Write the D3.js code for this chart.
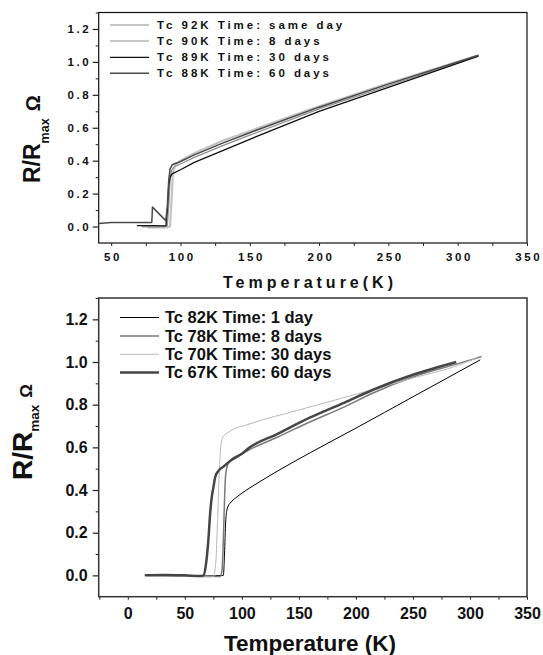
<!DOCTYPE html>
<html><head><meta charset="utf-8">
<script src="https://cdn.jsdelivr.net/npm/d3@7/dist/d3.min.js"></script>
<style>body{margin:0;background:#fff}text{font-family:"Liberation Sans",Arial,sans-serif;font-weight:bold;fill:#111}</style>
</head><body>
<script>
// ---------- TOP PANEL DATA ----------
const topLabels = ["Tc 92K Time: same day","Tc 90K Time: 8 days","Tc 89K Time: 30 days","Tc 88K Time: 60 days"];
const top92T = [76, 80, 85, 90, 92.5, 93.5, 94.5, 96, 100, 110, 130, 150, 200, 250, 315];
const top92R = [-0.006, -0.006, -0.006, -0.005, 0.0, 0.15, 0.32, 0.37, 0.40, 0.445, 0.52, 0.58, 0.73, 0.87, 1.04];
const top90T = [72, 80, 88, 90.5, 91.5, 92.5, 93.5, 95, 100, 110, 130, 150, 200, 250, 315];
const top90R = [-0.002, -0.002, -0.001, 0.005, 0.12, 0.28, 0.34, 0.36, 0.38, 0.42, 0.49, 0.555, 0.715, 0.855, 1.038];
const top89T = [68.5, 80, 89.5, 90.5, 91.5, 92.5, 94, 100, 110, 130, 150, 200, 250, 315];
const top89R = [0.006, 0.005, 0.004, 0.1, 0.25, 0.30, 0.32, 0.345, 0.39, 0.46, 0.53, 0.70, 0.845, 1.035];
const top88T = [41, 50, 79.3, 79.8, 89.4, 90.5, 91.5, 92.5, 94, 100, 110, 130, 150, 200, 250, 315];
const top88R = [0.018, 0.024, 0.024, 0.118, 0.036, 0.12, 0.28, 0.35, 0.375, 0.395, 0.435, 0.505, 0.57, 0.725, 0.865, 1.04];
const topXTicks = [50, 100, 150, 200, 250, 300, 350];
const topYTicks = [0.0, 0.2, 0.4, 0.6, 0.8, 1.0, 1.2];

// ---------- BOTTOM PANEL DATA ----------
const botLabels = ["Tc 82K Time: 1 day","Tc 78K Time: 8 days","Tc 70K Time: 30 days","Tc 67K Time: 60 days"];
const bot82T = [15, 30, 50, 70, 83.8, 84.8, 85.8, 86.7, 88, 90, 95, 100, 107, 116, 130, 160, 200, 250, 309];
const bot82R = [0, 0, -0.002, -0.002, 0, 0.1, 0.25, 0.30, 0.325, 0.34, 0.365, 0.385, 0.41, 0.44, 0.485, 0.575, 0.69, 0.837, 1.01];
const bot78T = [15, 40, 60, 78, 81, 82.5, 83.5, 84.5, 85.5, 87, 90, 100, 107, 130, 160, 190, 215, 250, 288, 310];
const bot78R = [0, -0.002, -0.002, -0.005, -0.005, 0.02, 0.12, 0.3, 0.45, 0.51, 0.54, 0.57, 0.59, 0.645, 0.72, 0.79, 0.855, 0.93, 0.99, 1.025];
const bot70T = [15, 40, 60, 72, 75, 77, 78.5, 80, 81.5, 83.5, 88, 107, 150, 215, 250, 290, 310];
const bot70R = [0, -0.003, -0.005, -0.008, -0.005, 0.05, 0.22, 0.45, 0.6, 0.65, 0.67, 0.71, 0.775, 0.871, 0.925, 0.985, 1.03];
const bot67T = [15, 30, 50, 64, 66.5, 68.5, 70.7, 72.2, 73.7, 75, 76.6, 79.5, 84, 89.7, 100, 107, 130, 160, 190, 215, 250, 288];
const bot67R = [0, 0.002, 0, -0.003, 0.0, 0.05, 0.17, 0.29, 0.37, 0.41, 0.46, 0.49, 0.51, 0.536, 0.57, 0.60, 0.66, 0.74, 0.81, 0.87, 0.94, 1.0];
const botXTicks = [0, 50, 100, 150, 200, 250, 300, 350];
const botYTicks = [0.0, 0.2, 0.4, 0.6, 0.8, 1.0, 1.2];

const zip = (T, R) => T.map((t, i) => ({t, r: R[i]}));

const svg = d3.select("body").append("svg").attr("width", 543).attr("height", 655);

function panel(cfg) {
  const x = d3.scaleLinear().domain(cfg.xDom).range([cfg.left, cfg.right]);
  const y = d3.scaleLinear().domain([-0.1, 1.3]).range([cfg.bottom, cfg.top]);
  const g = svg.append("g");
  const ls = cfg.ls;

  const yMinor = d3.range(-0.1, 1.3001, 0.1).map(v => +v.toFixed(1)).filter(v => !cfg.yTicks.includes(v) && v > -0.1);
  g.append("g").attr("transform", `translate(${cfg.left},0)`)
    .call(d3.axisLeft(y).tickValues(yMinor).tickSize(cfg.yMinorLen).tickFormat("").tickSizeOuter(0))
    .call(a => a.select(".domain").remove())
    .selectAll("line").attr("stroke", "#222").attr("stroke-width", 1);
  const ya = g.append("g").attr("transform", `translate(${cfg.left},0)`)
    .call(d3.axisLeft(y).tickValues(cfg.yTicks).tickSize(cfg.yMajorLen).tickPadding(cfg.yPad).tickFormat(d3.format(".1f")).tickSizeOuter(0));
  ya.select(".domain").remove();
  ya.selectAll("line").attr("stroke", "#222").attr("stroke-width", 1.2);
  ya.selectAll("text").attr("font-size", cfg.tickFont).attr("font-family", "Liberation Sans, Arial, sans-serif")
    .attr("font-weight", "bold").attr("fill", "#111").attr("letter-spacing", ls).attr("dx", ls ? ls : 0);

  const xMinor = d3.range(cfg.xMinorStart, 351, 50);
  g.append("g").attr("transform", `translate(0,${cfg.bottom})`)
    .call(d3.axisBottom(x).tickValues(xMinor).tickSize(3).tickFormat("").tickSizeOuter(0))
    .call(a => a.select(".domain").remove())
    .selectAll("line").attr("stroke", "#222");
  const xa = g.append("g").attr("transform", `translate(0,${cfg.bottom})`)
    .call(d3.axisBottom(x).tickValues(cfg.xTicks).tickSize(3).tickPadding(cfg.xPad).tickFormat(d3.format("d")).tickSizeOuter(0));
  xa.select(".domain").remove();
  xa.selectAll("line").attr("stroke", "#222");
  xa.selectAll("text").attr("font-size", cfg.tickFont).attr("font-family", "Liberation Sans, Arial, sans-serif")
    .attr("font-weight", "bold").attr("fill", "#111").attr("letter-spacing", ls).attr("dx", ls ? ls / 2 : 0);

  g.append("rect").attr("x", cfg.left).attr("y", cfg.top).attr("width", cfg.right - cfg.left).attr("height", cfg.bottom - cfg.top)
    .attr("fill", "none").attr("stroke", cfg.frameColor).attr("stroke-width", cfg.frameW);

  const line = d3.line().x(d => x(d.t)).y(d => y(d.r)).curve(cfg.curve);
  cfg.series.forEach(s => {
    g.append("path").datum(zip(s.T, s.R)).attr("d", line).attr("fill", "none")
      .attr("stroke", s.color).attr("stroke-width", s.w).attr("stroke-linejoin", "round");
  });

  cfg.series.forEach((s, i) => {
    const ly = cfg.legY[i];
    g.append("line").attr("x1", cfg.legX1).attr("x2", cfg.legX2).attr("y1", ly).attr("y2", ly)
      .attr("stroke", s.color).attr("stroke-width", s.w);
    g.append("text").attr("x", cfg.legTX).attr("y", ly).attr("dy", "0.36em").attr("font-size", cfg.legFont)
      .attr("letter-spacing", cfg.legLS).text(cfg.labels[i]);
  });

  g.append("text").attr("x", cfg.xtX).attr("y", cfg.xtY).attr("text-anchor", "middle")
    .attr("font-size", cfg.xtFont).attr("letter-spacing", cfg.xtLS).text(cfg.xTitle);

  const yt = g.append("text").attr("transform", `translate(${cfg.ytX},${cfg.ytY}) rotate(-90)`).attr("text-anchor", "start");
  yt.append("tspan").attr("font-size", cfg.ytFont).text("R/R");
  yt.append("tspan").attr("font-size", cfg.ytSubFont).attr("dy", cfg.ytSubDy).text("max");
  yt.append("tspan").attr("font-size", cfg.ytOmFont).attr("dy", -cfg.ytSubDy).attr("dx", 7).text("Ω");
}

panel({
  left: 98.7, right: 527, top: 12.5, bottom: 243, xDom: [41, 350],
  xTicks: topXTicks, yTicks: topYTicks, xMinorStart: 75,
  tickFont: 11.5, ls: 2.6, yPad: 4, xPad: 7, yMajorLen: 6, yMinorLen: 3,
  frameColor: "#111", frameW: 1.2, curve: d3.curveLinear,
  series: [
    {T: top92T, R: top92R, color: "#c4c4c4", w: 2.2},
    {T: top90T, R: top90R, color: "#8f8f8f", w: 1.2},
    {T: top89T, R: top89R, color: "#111", w: 1.3},
    {T: top88T, R: top88R, color: "#4a4a4a", w: 1.5}
  ],
  labels: topLabels, legY: [25, 41, 57.3, 73.3], legX1: 110, legX2: 149, legTX: 157, legFont: 11.5, legLS: 2.95,
  xTitle: "Temperature(K)", xtX: 310, xtY: 288, xtFont: 16, xtLS: 4,
  ytX: 40, ytY: 183, ytFont: 23, ytSubFont: 12.5, ytSubDy: 9, ytOmFont: 20
});

panel({
  left: 98.7, right: 527, top: 298, bottom: 596.7, xDom: [-25.5, 350],
  xTicks: botXTicks, yTicks: botYTicks, xMinorStart: -25,
  tickFont: 16, ls: 0, yPad: 5, xPad: 8, yMajorLen: 6, yMinorLen: 3,
  frameColor: "#333", frameW: 1.5, curve: d3.curveMonotoneX,
  series: [
    {T: bot82T, R: bot82R, color: "#000", w: 1},
    {T: bot78T, R: bot78R, color: "#7a7a7a", w: 1.5},
    {T: bot70T, R: bot70R, color: "#b8b8b8", w: 1},
    {T: bot67T, R: bot67R, color: "#454545", w: 2.5}
  ],
  labels: botLabels, legY: [317.5, 336, 354.3, 372.5], legX1: 120, legX2: 159, legTX: 165, legFont: 16.5, legLS: 0,
  xTitle: "Temperature (K)", xtX: 310, xtY: 651, xtFont: 22.5, xtLS: 0,
  ytX: 31.7, ytY: 480, ytFont: 28, ytSubFont: 13.5, ytSubDy: 7, ytOmFont: 17
});
</script>
</body></html>
